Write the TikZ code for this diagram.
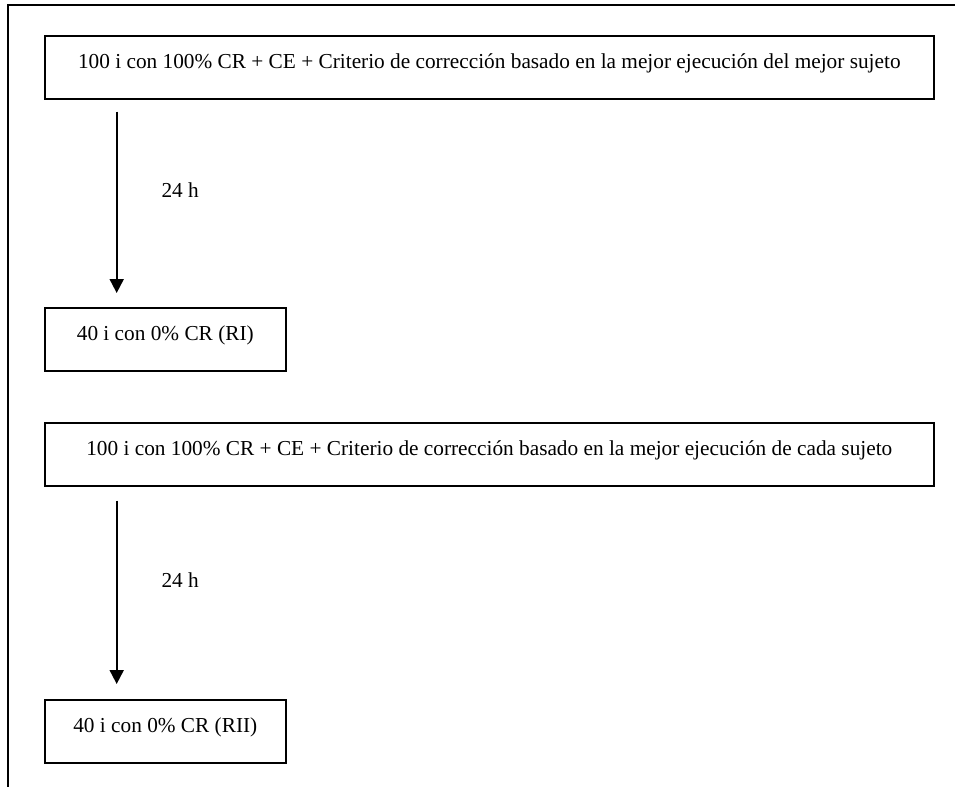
\documentclass[tikz,border=0pt]{standalone}
\usepackage{fontspec}
\setmainfont{Liberation Serif}
\usetikzlibrary{arrows.meta, positioning}

\begin{document}
\begin{tikzpicture}[
    x=1pt, y=1pt,
    task/.style={rectangle, draw=black, line width=1.6pt, inner sep=0pt, minimum height=63pt,
                 text height=33pt, text depth=30pt, font=\fontsize{21.3}{24}\selectfont},
    wide/.style={task, minimum width=889pt},
    narrow/.style={task, minimum width=241pt},
    lag/.style={font=\fontsize{21.3}{24}\selectfont, anchor=west},
    arrow/.style={-{Triangle[width=14pt, length=14pt]}, line width=2pt},
]
\useasboundingbox (0,0) rectangle (955,-787);
% Open frame (top and left only)
\draw[line width=1.5pt] (955,-5) -- (8,-5) -- (8,-787);

% First block
\node[wide, anchor=north west] (best1) at (44,-35) {100 i con 100\% CR + CE + Criterio de corrección basado en la mejor ejecución del mejor sujeto};
\node[narrow, anchor=north west] (ri) at (44,-307) {40 i con 0\% CR (RI)};
\draw[arrow] ([xshift=72.7pt, yshift=-12pt]best1.south west) -- ([xshift=72.7pt, yshift=14pt]ri.north west);
\node[lag] (lag1) at (158,-190) {24 h};

% Second block
\node[wide, anchor=north west] (best2) at (44,-422) {100 i con 100\% CR + CE + Criterio de corrección basado en la mejor ejecución de cada sujeto};
\node[narrow, anchor=north west] (rii) at (44,-699) {40 i con 0\% CR (RII)};
\draw[arrow] ([xshift=72.7pt, yshift=-14pt]best2.south west) -- ([xshift=72.7pt, yshift=15pt]rii.north west);
\node[lag] (lag2) at (158,-580) {24 h};
\end{tikzpicture}
\end{document}
